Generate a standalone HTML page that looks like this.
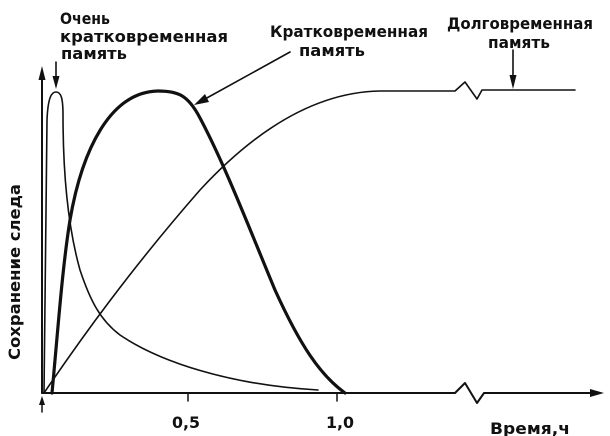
<!DOCTYPE html>
<html><head><meta charset="utf-8"><style>
html,body{margin:0;padding:0;background:#fff}
svg{display:block}
text{font-family:"DejaVu Sans Condensed","DejaVu Sans","Liberation Sans",sans-serif;fill:#111;font-weight:bold}
</style></head><body>
<svg width="610" height="436" viewBox="0 0 610 436">
<g stroke="#111" fill="none" stroke-linecap="round" stroke-linejoin="round">
<line x1="42" y1="393" x2="42" y2="75" stroke-width="2"/>
<polygon points="42,66 38.5,80 45.5,80" fill="#111" stroke="none"/>
<polyline points="42,393 455,393 465,383 477,403 484,393 592,393" stroke-width="2"/>
<polygon points="604,393 590,389 590,397" fill="#111" stroke="none"/>
<line x1="188" y1="393" x2="188" y2="401" stroke-width="1.5"/>
<line x1="337" y1="393" x2="337" y2="401" stroke-width="1.5"/>
<line x1="42" y1="412" x2="42" y2="402" stroke-width="1.5"/>
<polygon points="42,396 39,405 45,405" fill="#111" stroke="none"/>
<path d="M44,393 L47,120 C48,96 52,92 56,92 C61,92 63,98 63,115 C63,160 66,220 80,270 C90,300 100,320 120,335 C160,362 230,385 318,390" stroke-width="1.6"/>
<path d="M52,393 C58,330 62,270 70,220 C82,150 110,92 158,91 C178,91 188,95 200,118 C225,165 250,230 275,290 C300,345 320,375 345,393" stroke-width="3.2"/>
<path d="M44,393 C80,340 130,270 200,190 C260,125 320,92 380,91 L455,91 L465,82 L477,99 L482,90 L575,90" stroke-width="1.6"/>
<line x1="56" y1="62" x2="56" y2="80" stroke-width="1.6"/>
<polygon points="56,89 52.5,76 59.5,76" fill="#111" stroke="none"/>
<line x1="290" y1="52" x2="205" y2="99" stroke-width="1.6"/>
<polygon points="194,105 205,94 209,102" fill="#111" stroke="none"/>
<line x1="513" y1="50" x2="513" y2="78" stroke-width="1.6"/>
<polygon points="513,89 509.5,75 516.5,75" fill="#111" stroke="none"/>
</g>
<g font-size="16">
<text x="60" y="24" textLength="50" lengthAdjust="spacingAndGlyphs">Очень</text>
<text x="60" y="42" textLength="168" lengthAdjust="spacingAndGlyphs">кратковременная</text>
<text x="61" y="59" textLength="66" lengthAdjust="spacingAndGlyphs">память</text>
<text x="270" y="37" textLength="158" lengthAdjust="spacingAndGlyphs">Кратковременная</text>
<text x="299" y="56" textLength="66" lengthAdjust="spacingAndGlyphs">память</text>
<text x="447" y="29" textLength="146" lengthAdjust="spacingAndGlyphs">Долговременная</text>
<text x="488" y="48" textLength="62" lengthAdjust="spacingAndGlyphs">память</text>
<text x="172" y="428" textLength="28" lengthAdjust="spacingAndGlyphs">0,5</text>
<text x="326" y="428" textLength="28" lengthAdjust="spacingAndGlyphs">1,0</text>
<text x="490" y="434" textLength="80" lengthAdjust="spacingAndGlyphs">Время,ч</text>
<text transform="translate(20,360) rotate(-90)" textLength="176" lengthAdjust="spacingAndGlyphs">Сохранение  следа</text>
</g>
</svg>
</body></html>
